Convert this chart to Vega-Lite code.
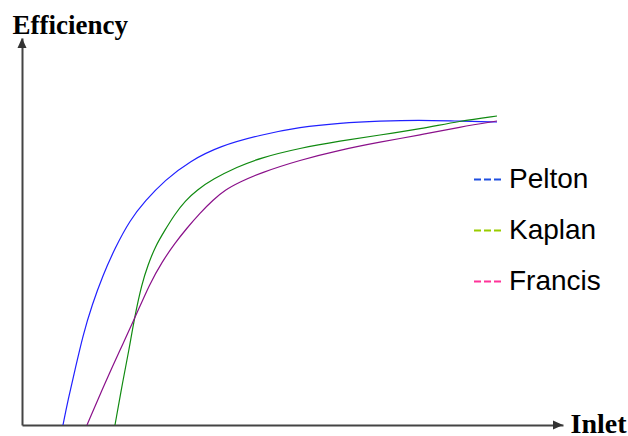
{
  "$schema": "https://vega.github.io/schema/vega-lite/v6.json",
  "width": 541,
  "height": 387,
  "autosize": {"type": "none"},
  "padding": {"left": 22, "top": 38, "right": 65, "bottom": 11},
  "background": "white",
  "config": {"view": {"stroke": null}},
  "resolve": {"scale": {"color": "independent"}},
  "datasets": {
    "curves": [
      {"turbine": "Pelton", "inlet": 41, "eff": 0},
      {"turbine": "Pelton", "inlet": 46, "eff": 25},
      {"turbine": "Pelton", "inlet": 53, "eff": 55},
      {"turbine": "Pelton", "inlet": 61, "eff": 90},
      {"turbine": "Pelton", "inlet": 70, "eff": 120},
      {"turbine": "Pelton", "inlet": 81, "eff": 150},
      {"turbine": "Pelton", "inlet": 93, "eff": 177},
      {"turbine": "Pelton", "inlet": 108, "eff": 205},
      {"turbine": "Pelton", "inlet": 123, "eff": 224},
      {"turbine": "Pelton", "inlet": 143, "eff": 245},
      {"turbine": "Pelton", "inlet": 168, "eff": 264},
      {"turbine": "Pelton", "inlet": 198, "eff": 279},
      {"turbine": "Pelton", "inlet": 238, "eff": 290},
      {"turbine": "Pelton", "inlet": 278, "eff": 298},
      {"turbine": "Pelton", "inlet": 318, "eff": 302},
      {"turbine": "Pelton", "inlet": 358, "eff": 304},
      {"turbine": "Pelton", "inlet": 398, "eff": 305},
      {"turbine": "Pelton", "inlet": 431, "eff": 304},
      {"turbine": "Pelton", "inlet": 475, "eff": 303},
      {"turbine": "Kaplan", "inlet": 93, "eff": 0},
      {"turbine": "Kaplan", "inlet": 101, "eff": 45},
      {"turbine": "Kaplan", "inlet": 107, "eff": 75},
      {"turbine": "Kaplan", "inlet": 112, "eff": 105},
      {"turbine": "Kaplan", "inlet": 120, "eff": 142},
      {"turbine": "Kaplan", "inlet": 126, "eff": 160},
      {"turbine": "Kaplan", "inlet": 133, "eff": 178},
      {"turbine": "Kaplan", "inlet": 143, "eff": 195},
      {"turbine": "Kaplan", "inlet": 153, "eff": 211},
      {"turbine": "Kaplan", "inlet": 163, "eff": 224},
      {"turbine": "Kaplan", "inlet": 175, "eff": 235},
      {"turbine": "Kaplan", "inlet": 191, "eff": 246},
      {"turbine": "Kaplan", "inlet": 215, "eff": 258},
      {"turbine": "Kaplan", "inlet": 238, "eff": 267},
      {"turbine": "Kaplan", "inlet": 278, "eff": 277},
      {"turbine": "Kaplan", "inlet": 318, "eff": 284},
      {"turbine": "Kaplan", "inlet": 358, "eff": 290},
      {"turbine": "Kaplan", "inlet": 398, "eff": 296},
      {"turbine": "Kaplan", "inlet": 438, "eff": 304},
      {"turbine": "Kaplan", "inlet": 475, "eff": 309},
      {"turbine": "Francis", "inlet": 65, "eff": 0},
      {"turbine": "Francis", "inlet": 83, "eff": 42},
      {"turbine": "Francis", "inlet": 98, "eff": 75},
      {"turbine": "Francis", "inlet": 112, "eff": 105},
      {"turbine": "Francis", "inlet": 128, "eff": 142},
      {"turbine": "Francis", "inlet": 140, "eff": 163},
      {"turbine": "Francis", "inlet": 153, "eff": 182},
      {"turbine": "Francis", "inlet": 165, "eff": 197},
      {"turbine": "Francis", "inlet": 178, "eff": 212},
      {"turbine": "Francis", "inlet": 191, "eff": 225},
      {"turbine": "Francis", "inlet": 203, "eff": 235},
      {"turbine": "Francis", "inlet": 218, "eff": 243},
      {"turbine": "Francis", "inlet": 238, "eff": 252},
      {"turbine": "Francis", "inlet": 278, "eff": 265},
      {"turbine": "Francis", "inlet": 318, "eff": 275},
      {"turbine": "Francis", "inlet": 358, "eff": 283},
      {"turbine": "Francis", "inlet": 398, "eff": 290},
      {"turbine": "Francis", "inlet": 438, "eff": 298},
      {"turbine": "Francis", "inlet": 475, "eff": 304}
    ]
  },
  "layer": [
    {
      "data": {"name": "curves"},
      "mark": {"type": "line", "interpolate": "basis", "strokeWidth": 1.2},
      "encoding": {
        "x": {
          "field": "inlet", "type": "quantitative",
          "scale": {"domain": [0, 541], "nice": false},
          "axis": {
            "domain": true, "domainColor": "#444444", "domainWidth": 2,
            "ticks": false, "labels": false, "grid": false,
            "title": "Inlet", "titleFont": "Liberation Serif", "titleFontWeight": "bold",
            "titleFontSize": 28, "titleColor": "#000000",
            "titleX": 548, "titleY": 7, "titleAlign": "left", "titleBaseline": "alphabetic", "titleAngle": 0
          }
        },
        "y": {
          "field": "eff", "type": "quantitative",
          "scale": {"domain": [0, 387], "nice": false},
          "axis": {
            "domain": true, "domainColor": "#444444", "domainWidth": 2,
            "ticks": false, "labels": false, "grid": false,
            "title": "Efficiency", "titleFont": "Liberation Serif", "titleFontWeight": "bold",
            "titleFontSize": 27, "titleColor": "#000000",
            "titleX": -10, "titleY": -5, "titleAlign": "left", "titleBaseline": "alphabetic", "titleAngle": 0
          }
        },
        "color": {
          "field": "turbine", "type": "nominal",
          "scale": {"domain": ["Pelton", "Kaplan", "Francis"], "range": ["#2020ff", "#108a10", "#8a108a"]},
          "legend": null
        }
      }
    },
    {
      "data": {"name": "curves"},
      "mark": {"type": "line", "opacity": 0},
      "encoding": {
        "x": {"field": "inlet", "type": "quantitative"},
        "y": {"field": "eff", "type": "quantitative"},
        "color": {
          "field": "turbine", "type": "nominal",
          "scale": {"domain": ["Pelton", "Kaplan", "Francis"], "range": ["#1f4fe0", "#99cc00", "#ff3399"]},
          "legend": {
            "title": null, "orient": "none", "legendX": 451, "legendY": 127,
            "symbolType": "stroke", "symbolSize": 729, "symbolStrokeWidth": 2,
            "symbolDash": [7, 3], "symbolOpacity": 1, "labelFont": "Liberation Sans", "labelFontSize": 28,
            "labelColor": "#000000", "labelOffset": 7, "rowPadding": 22, "padding": 0
          }
        }
      }
    },
    {
      "data": {"values": [{"inlet": 541, "eff": 0}]},
      "mark": {"type": "point", "shape": "M0,0L-2,-0.9L-2,0.9Z", "size": 100, "filled": true, "color": "#333333", "opacity": 1},
      "encoding": {
        "x": {"field": "inlet", "type": "quantitative"},
        "y": {"field": "eff", "type": "quantitative"}
      }
    },
    {
      "data": {"values": [{"inlet": 0, "eff": 387}]},
      "mark": {"type": "point", "shape": "M0,0L-0.9,2L0.9,2Z", "size": 100, "filled": true, "color": "#333333", "opacity": 1},
      "encoding": {
        "x": {"field": "inlet", "type": "quantitative"},
        "y": {"field": "eff", "type": "quantitative"}
      }
    }
  ]
}
